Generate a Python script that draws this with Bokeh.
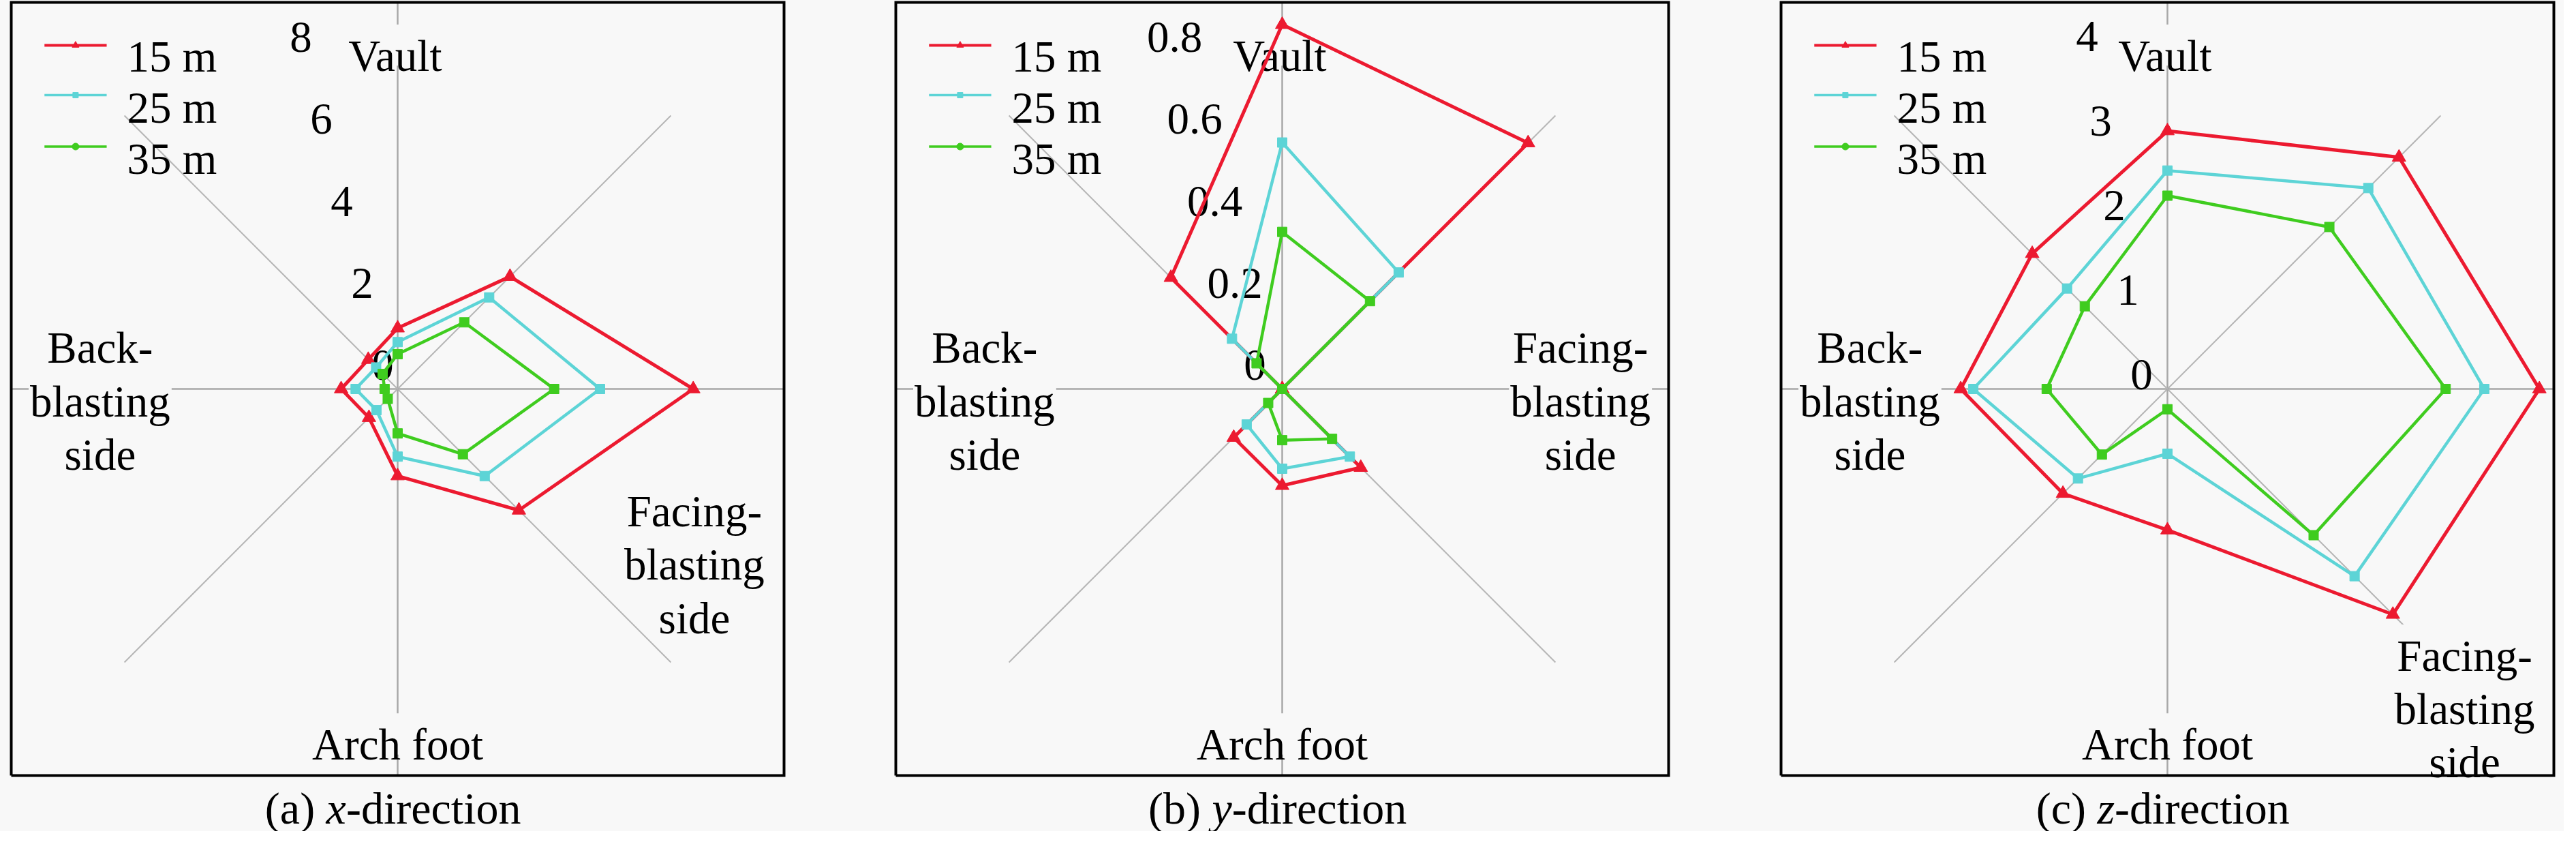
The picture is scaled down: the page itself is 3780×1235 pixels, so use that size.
import numpy as np
from bokeh.plotting import figure
from bokeh.layouts import row
from bokeh.models import Range1d
from bokeh.embed import file_html
from bokeh.resources import INLINE
from bokeh.core.properties import value

# ---------------- data ----------------
# spokes, clockwise from the top (degrees)
spoke_angles = [90, 45, 0, -45, -90, -135, 180, 135]
series_names = ["15 m", "25 m", "35 m"]

# (a) x-direction
x_15m = [1.26, 3.29, 6.12, 3.55, 1.80, 0.84, 1.17, 0.86]
x_25m = [0.97, 2.68, 4.19, 2.55, 1.40, 0.62, 0.87, 0.63]
x_35m = [0.72, 1.95, 3.24, 1.91, 0.92, 0.29, 0.27, 0.44]
# (b) y-direction
y_15m = [0.754, 0.720, 0.0, 0.230, 0.200, 0.142, 0.0, 0.326]
y_25m = [0.510, 0.341, 0.0, 0.198, 0.165, 0.104, 0.0, 0.147]
y_35m = [0.325, 0.257, 0.0, 0.146, 0.106, 0.041, 0.0, 0.075]
# (c) z-direction
z_15m = [2.67, 3.39, 3.85, 3.30, 1.46, 1.53, 2.14, 1.98]
z_25m = [2.26, 2.94, 3.28, 2.74, 0.67, 1.31, 2.01, 1.47]
z_35m = [2.00, 2.37, 2.88, 2.14, 0.21, 0.96, 1.25, 1.21]

ticks_x = [0, 2, 4, 6, 8]
ticks_y = [0, 0.2, 0.4, 0.6, 0.8]
ticks_z = [0, 1, 2, 3, 4]
tick_labels_x = ["0", "2", "4", "6", "8"]
tick_labels_y = ["0", "0.2", "0.4", "0.6", "0.8"]
tick_labels_z = ["0", "1", "2", "3", "4"]

captions = [("(a) ", "x", "-direction"), ("(b) ", "y", "-direction"), ("(c) ", "z", "-direction")]

# ---------------- styling ----------------
COLORS = ["#ec1a30", "#5dd4d6", "#3fcc1f"]
MARKERS = ["triangle", "square", "square"]
MSIZE = [20, 14, 14]
LWIDTH = [5, 4.5, 4.5]
LEG_MARK = ["triangle", "square", "circle"]
LEG_MSIZE = [10, 8, 10]
BG = "#f8f8f8"
FONT = "Times New Roman"
FSN = 65.0
FS = "65px"
PX = 567.0  # pixels per radius unit

# Times-like glyph widths (per 1000 em)
W = {'(': 333, ')': 333, 'a': 444, 'b': 500, 'c': 444, ' ': 250, '-': 333, 'd': 500,
     'i': 278, 'r': 333, 'e': 444, 't': 278, 'o': 500, 'n': 500, 'V': 722, 'u': 500,
     'l': 278, 'B': 667, 'k': 500, 's': 389, 'g': 500, 'F': 556, 'A': 722, 'h': 500,
     'f': 333, '.': 250}
WI = {'x': 444, 'y': 444, 'z': 389}


def tw(s, fs=FSN):
    return sum(W.get(c, 500) for c in s) / 1000.0 * fs / PX


FIG_W, FIG_H = 1254, 1219
CY = 570.0  # center from top
centers_x = [583.0, 627.0, 672.0]

panels = [
    dict(data=[x_15m, x_25m, x_35m], vmax=8.0, ticks=ticks_x, tl=tick_labels_x,
         tx=(-0.0388, -0.2116), ty=(0.0617, 0.848), facing=(0.768, -0.455)),
    dict(data=[y_15m, y_25m, y_35m], vmax=0.8, ticks=ticks_y, tl=tick_labels_y,
         tx=(-0.0705, -0.208), ty=(0.0617, 0.848), facing=(0.772, -0.032)),
    dict(data=[z_15m, z_25m, z_35m], vmax=4.0, ticks=ticks_z, tl=tick_labels_z,
         tx=(-0.067, -0.141), ty=(0.037, 0.875), facing=(0.769, -0.828)),
]

LINE_GAP = 0.138


def label_lines(p, lines, x, ymid):
    n = len(lines)
    ys = [ymid + (n // 2 - k) * LINE_GAP for k in range(n)]
    # background patches per word (hide the spokes under the text)
    rx, ry, rw, lefts = [], [], [], []
    for line, yb in zip(lines, ys):
        total = tw(line)
        left = x - total / 2
        lefts.append(left)
        pos = 0.0
        for word in line.split(" "):
            w = tw(word)
            rx.append(left + pos + w / 2)
            ry.append(yb + 0.24 * FSN / PX)
            rw.append(w + 4 / PX)
            pos += w + tw(" ")
    p.rect(x=rx, y=ry, width=rw, height=0.93 * FSN / PX, fill_color=BG, line_color=None)
    p.text(x=lefts, y=ys, text=lines, text_font=value(FONT), text_font_size=FS,
           text_align="left", text_baseline="alphabetic", text_color="black")


figs = []
for i, cfg in enumerate(panels):
    cx = centers_x[i]
    xr = Range1d(-cx / PX, (FIG_W - cx) / PX)
    yr = Range1d(-(FIG_H - CY) / PX, CY / PX)
    p = figure(width=FIG_W, height=FIG_H, x_range=xr, y_range=yr,
               output_backend="svg", toolbar_location=None,
               x_axis_location=None, y_axis_location=None, min_border=0)
    p.grid.visible = False
    p.background_fill_color = BG
    p.border_fill_color = BG
    p.outline_line_color = None

    ang = np.deg2rad(np.array(spoke_angles, dtype=float))
    # spokes
    for a, d in zip(ang, spoke_angles):
        diag = d % 90 != 0
        p.line([0, np.cos(a)], [0, np.sin(a)], line_color="#b6b6b6" if diag else "#a8a8a8",
               line_width=2 if diag else 2.5)

    # category labels
    label_lines(p, ["Vault"], 0.0, 0.862)
    label_lines(p, ["Back-", "blasting", "side"], -0.770, -0.032)
    fx, fy = cfg["facing"]
    label_lines(p, ["Facing-", "blasting", "side"], fx, fy)
    label_lines(p, ["Arch foot"], 0.0, -0.920)

    # tick labels (left-aligned at computed centre minus half width)
    f = np.array(cfg["ticks"], dtype=float) / cfg["vmax"]
    tcx = cfg["tx"][0] + cfg["tx"][1] * f
    tlx = [c - tw(t) / 2 for c, t in zip(tcx, cfg["tl"])]
    p.text(x=tlx, y=cfg["ty"][0] + cfg["ty"][1] * f,
           text=cfg["tl"], text_font=value(FONT), text_font_size=FS,
           text_align="left", text_baseline="middle", text_color="black")

    # series
    for s, vals in enumerate(cfg["data"]):
        r = np.array(vals, dtype=float) / cfg["vmax"]
        xs = r * np.cos(ang)
        ys = r * np.sin(ang)
        p.line(np.append(xs, xs[0]), np.append(ys, ys[0]), line_color=COLORS[s],
               line_width=LWIDTH[s], line_join="miter")
        p.scatter(xs, ys, marker=MARKERS[s], size=MSIZE[s], fill_color=COLORS[s],
                  line_color=COLORS[s])

    # legend (manual)
    leg_line_y = [0.889, 0.760, 0.627]
    leg_text_y = [0.859, 0.727, 0.595]
    for s, name in enumerate(series_names):
        p.line([-0.914, -0.753], [leg_line_y[s]] * 2, line_color=COLORS[s], line_width=LWIDTH[s] - 1)
        p.scatter([-0.8335], [leg_line_y[s]], marker=LEG_MARK[s], size=LEG_MSIZE[s],
                  fill_color=COLORS[s], line_color=COLORS[s])
    p.text(x=[-0.700] * 3, y=leg_text_y, text=series_names, text_font=value(FONT),
           text_font_size=FS, text_align="left", text_baseline="alphabetic", text_color="black")

    # frame box
    p.line([-1, 1, 1, -1, -1], [-1, -1, 1, 1, -1], line_color="black", line_width=4,
           line_join="miter")

    # caption
    pre, it, suf = captions[i]
    cfs = 66.0
    wp = tw(pre, cfs)
    wi = WI[it] / 1000 * cfs / PX
    ws = tw(suf, cfs)
    x0 = -0.012 - (wp + wi + ws) / 2
    yb = -1.085
    for txt, dx, style in [(pre, 0.0, "normal"), (it, wp, "italic"), (suf, wp + wi, "normal")]:
        p.text(x=[x0 + dx], y=[yb], text=[txt], text_font=value(FONT), text_font_size="66px",
               text_font_style=style, text_align="left", text_baseline="alphabetic",
               text_color="black")

    figs.append(p)

layout = row(*figs, spacing=0)
layout.styles = {"background-color": BG}
open("out.html", "w").write(file_html(layout, INLINE))
